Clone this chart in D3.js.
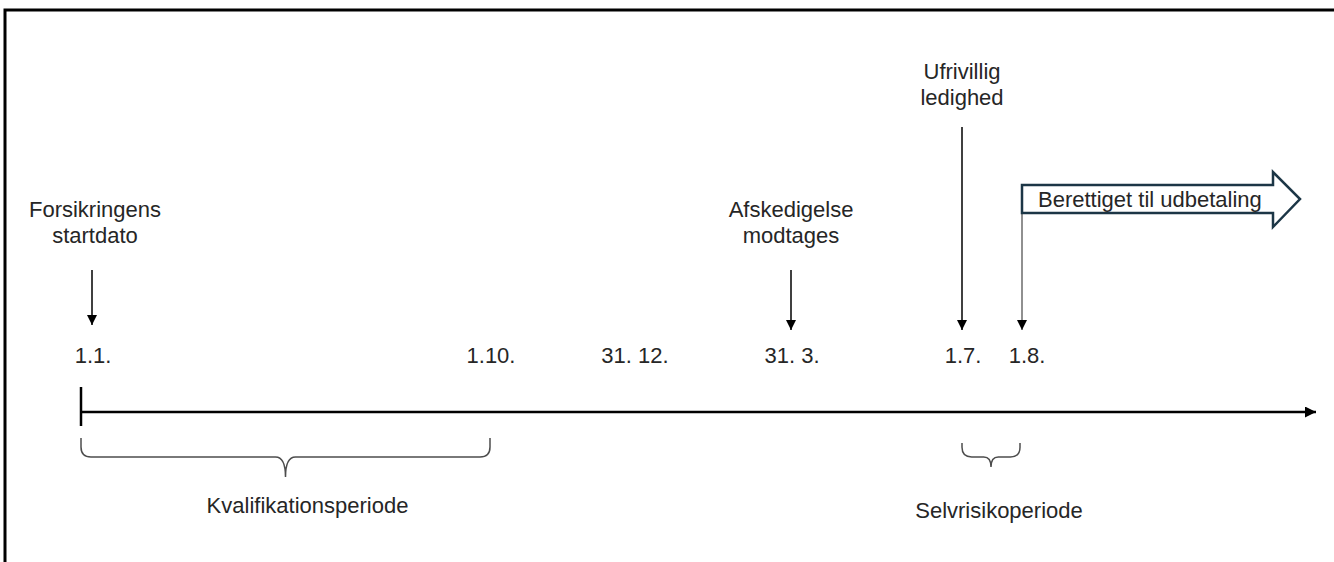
<!DOCTYPE html>
<html>
<head>
<meta charset="utf-8">
<script src="https://cdn.jsdelivr.net/npm/d3@7"></script>
<style>
    html, body { margin: 0; padding: 0; background: #fff; }
    svg { display: block; }
    text { font-family: "Liberation Sans", Arial, sans-serif; font-size: 22px; fill: #262626; }
</style>
</head>
<body>
<svg id="chart" width="1334" height="562"></svg>
<script>
// timeline.js
const dateLabels = ["1.1.", "1.10.", "31. 12.", "31. 3.", "1.7.", "1.8."];
const dateDays = [0, 273, 364, 454, 546, 577];

const eventLines = [["Forsikringens", "startdato"], ["Afskedigelse", "modtages"], ["Ufrivillig", "ledighed"]];
const eventDays = [0, 454, 546];
const eventTier = [0, 0, 1];

const periodNames = ["Kvalifikationsperiode", "Selvrisikoperiode"];
const periodStart = [0, 546];
const periodEnd = [273, 577];

const payoutLabel = "Berettiget til udbetaling";
const payoutDay = 577;

(function () {
    const W = 1334, H = 562;
    const axisY = 412;
    const axisLeft = 81, axisRight = 1316;
    const labelY = 363;
    const arrowTip = 330;

    const svg = d3.select("#chart");

    // schematic (not to scale) day -> x
    const x = d3.scaleLinear()
        .domain(dateDays)
        .range([92, 490, 634, 791, 962, 1022]);

    const defs = svg.append("defs");
    defs.append("marker")
        .attr("id", "head")
        .attr("viewBox", "0 0 10 10")
        .attr("refX", 10).attr("refY", 5)
        .attr("markerWidth", 10).attr("markerHeight", 10)
        .attr("markerUnits", "userSpaceOnUse")
        .attr("orient", "auto")
        .append("path")
        .attr("d", "M0,0 L10,5 L0,10 Z")
        .attr("fill", "#000");

    defs.append("marker")
        .attr("id", "axisHead")
        .attr("viewBox", "0 0 10 10")
        .attr("refX", 10).attr("refY", 5)
        .attr("markerWidth", 12).attr("markerHeight", 11)
        .attr("markerUnits", "userSpaceOnUse")
        .attr("orient", "auto")
        .append("path")
        .attr("d", "M0,0 L10,5 L0,10 Z")
        .attr("fill", "#000");

    // frame (only top and left visible)
    svg.append("path")
        .attr("d", `M5,${H} L5,10 L${W},10`)
        .attr("fill", "none")
        .attr("stroke", "#000")
        .attr("stroke-width", 3);

    // main axis
    svg.append("line")
        .attr("x1", axisLeft).attr("x2", axisRight)
        .attr("y1", axisY).attr("y2", axisY)
        .attr("stroke", "#000")
        .attr("stroke-width", 2.5)
        .attr("marker-end", "url(#axisHead)");

    svg.append("line")
        .attr("x1", axisLeft).attr("x2", axisLeft)
        .attr("y1", axisY - 25).attr("y2", axisY + 14)
        .attr("stroke", "#000")
        .attr("stroke-width", 2.5);

    // date labels
    svg.append("g")
        .selectAll("text")
        .data(dateLabels)
        .enter().append("text")
        .attr("x", (d, i) => x(dateDays[i]) + (i === 5 ? 5 : 1))
        .attr("y", labelY)
        .attr("text-anchor", "middle")
        .text(d => d);

    // events with arrows
    const tierBase = [217, 79];
    const ev = svg.append("g")
        .selectAll("g")
        .data(eventLines)
        .enter().append("g");

    ev.each(function (lines, i) {
        const g = d3.select(this);
        const cx = x(eventDays[i]);
        const b = tierBase[eventTier[i]];
        g.selectAll("text")
            .data(lines)
            .enter().append("text")
            .attr("x", cx + (i === 0 ? 3 : 0))
            .attr("y", (d, j) => b + j * 26)
            .attr("text-anchor", "middle")
            .text(d => d);
        g.append("line")
            .attr("x1", cx).attr("x2", cx)
            .attr("y1", b + 26 + (eventTier[i] === 0 ? 27 : 22))
            .attr("y2", i === 0 ? arrowTip - 5 : arrowTip)
            .attr("stroke", "#000")
            .attr("stroke-width", 1.5)
            .attr("marker-end", "url(#head)");
    });

    // payout block arrow
    const px = x(payoutDay);
    const bodyTop = 185, bodyBot = 213, headX = 1273, tipX = 1300;
    svg.append("line")
        .attr("x1", px).attr("x2", px)
        .attr("y1", bodyBot).attr("y2", arrowTip)
        .attr("stroke", "#6b6b6b")
        .attr("stroke-width", 1.5)
        .attr("marker-end", "url(#head)");

    const mid = (bodyTop + bodyBot) / 2;
    svg.append("path")
        .attr("d", `M${px},${bodyTop} L${headX},${bodyTop} L${headX},172 L${tipX},${mid} ` +
                   `L${headX},227 L${headX},${bodyBot} L${px},${bodyBot} Z`)
        .attr("fill", "#fff")
        .attr("stroke", "#1c3646")
        .attr("stroke-width", 2.5)
        .attr("stroke-linejoin", "miter");

    svg.append("text")
        .attr("x", px + 16)
        .attr("y", 207)
        .text(payoutLabel);

    // braces
    function brace(x0, x1, yTop, yFlat, yTip) {
        const xm = (x0 + x1) / 2;
        const r = Math.min(10, (x1 - x0) / 6);
        const s = Math.min(10, (x1 - x0) / 8);
        return `M${x0},${yTop} L${x0},${yFlat - r} Q${x0},${yFlat} ${x0 + r},${yFlat} ` +
               `L${xm - s},${yFlat} Q${xm},${yFlat} ${xm},${yTip} ` +
               `Q${xm},${yFlat} ${xm + s},${yFlat} L${x1 - r},${yFlat} ` +
               `Q${x1},${yFlat} ${x1},${yFlat - r} L${x1},${yTop}`;
    }

    const braceSpec = [
        { x0: axisLeft, x1: x(periodEnd[0]), top: 438, flat: 457, tip: 477, base: 513, dx: 22 },
        { x0: x(periodStart[1]), x1: x(periodEnd[1]) - 2, top: 443, flat: 457, tip: 467, base: 518, dx: 8 }
    ];

    periodNames.forEach((name, i) => {
        const b = braceSpec[i];
        svg.append("path")
            .attr("d", brace(b.x0, b.x1, b.top, b.flat, b.tip))
            .attr("fill", "none")
            .attr("stroke", "#4d4d4d")
            .attr("stroke-width", 1.5);
        svg.append("text")
            .attr("x", (b.x0 + b.x1) / 2 + b.dx)
            .attr("y", b.base)
            .attr("text-anchor", "middle")
            .text(name);
    });
})();
</script>
</body>
</html>
